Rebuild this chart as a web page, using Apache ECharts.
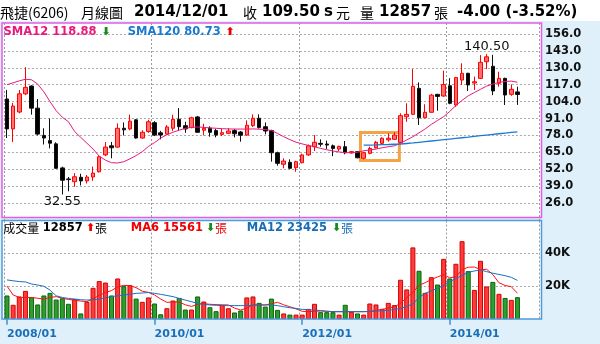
<!DOCTYPE html>
<html><head><meta charset="utf-8">
<script src="https://cdn.jsdelivr.net/npm/echarts@6/dist/echarts.min.js"></script>
<style>html,body{margin:0;padding:0;background:#dff0fb}#c{width:600px;height:344px}</style>
</head><body><div id="c"></div><script>
// ---- data ----
const months = [];
for (let y = 2008; y <= 2014; y++) for (let m = 1; m <= 12; m++) months.push(y + '/' + (m < 10 ? '0' + m : m));
const padCats = ['', '', ''];

const priceOpen  = [106,83,96,110,116,99,78,74,71.5,53, 44.5,42.4,45.8,43,46,50,63,70,69,83.5, 83,90,76,81,87.8,80,79,83.5,90.4,85.5, 84,92.2,82,83.5,81.7,78.8,79.6,81.7,80.6,78.3, 85.5,91.2,84.7,81.7,64.7,55.8,57.3,53.2,57,63, 69.3,71.9,71.4,70,67.5,69.3,64.5,65.5,60.4,64.2, 68.5,71.9,74.6,75,72.7,92.4,94.2,114.2,91.6,95.8, 109.6,108.3,116.2,101.4,120.6,125.8,118.3,121.9,134.7,131.2, 118.1,121.9,109.6,111.5];
const priceClose = [83,100.6,110,115,99,79,76,72,52.7,43.5, 44,46.2,43,46,49,61.6,69,68.5,83.5,82.3, 89,76,80.4,88.5,78.3,78.3,84.5,90.4,84.7,83, 91.6,80.4,83.5,80.4,78.3,80.1,81.4,79.3,78.1,85.8, 91.2,84,81.4,64.7,56.5,58.3,52.7,57.8,63,70, 72.7,71.2,70.6,68,69.6,64.7,65.5,60.8,64.7,68, 72.7,75.8,75.8,78.3,93.2,94.2,115.8,91.6,95.8,109, 108,117.1,102.7,122.5,125.8,116.8,119.3,134.2,138.5,112.2, 121.9,109.1,113.5,109.5];
const priceLow   = [76,73,95,109,94,78,71,68,52.5,32.55, 35,38.5,39.5,41,43,49.5,62,60.4,68.5,78, 82,75.5,75.5,80,77.5,75,78.5,81.5,81.4,80, 83.5,80,78,77,76.5,77.5,79,76.5,73.2,77.8, 84.5,83.3,78.8,57.8,54.7,52.7,52,50,56.5,62.3, 66,69.3,67.6,62,66,63.5,64,60.4,59.6,63.5, 68,71.2,73.2,74.5,72,88.5,93.7,86,91.2,95.5, 97,107.8,102,100,116.8,112.2,113,121.4,129,109, 115.5,101.4,108.5,101.5];
const priceHigh  = [113,103,113,130.5,116.5,106,83.5,91,72.7,54, 46,49,48.5,47.5,54,62.3,73,73,87.3,88, 94,90.5,82,90,89,81.5,86,94,99,88.5, 92.3,93,87,85,83,83,83.5,83,81.4,89.6, 94.2,94.2,88,82.4,65.5,60.4,59.6,58.5,64,71, 78.3,75,74,71,70,73.7,66,66,65.5,69.3, 73.7,76.5,79.6,80.4,95,102.7,129,118.8,102,110, 110,127.8,122,123,133.5,126.2,123.3,139.8,140.5,140, 127,122.4,117.3,115.5];
const sma12 = [117,118.5,120,121.2,120.8,117.5,111.5,104,97,92, 88.5,81,76.5,72,67.5,62,59,57,56.8,57.8, 60,62.5,65.5,69.5,72.5,76,78.5,80.5,82,83.5, 84.2,84.5,84.2,83.8,83.5,83.2,83,82.9,82.9,82.9, 83,82.8,82.5,81.8,79.5,77,74.8,72.8,71.5,70.3, 69.3,68,67,66,65.3,64.7,64.8,65,66.2,66.8, 67.5,68.5,69.3,70,72,74.5,77,80,83,86.5, 89.5,92.4,96.5,101,105,108.5,111,113.5,116,117.5, 118.8,119.5,119.8,118.88];
const sma120 = [null,null,null,null,null,null,null,null,null,null, null,null,null,null,null,null,null,null,null,null, null,null,null,null,null,null,null,null,null,null, null,null,null,null,null,null,null,null,null,null, null,null,null,null,null,null,null,null,null,null, null,null,null,null,null,null,null,null,70.5,70.6, 70.7,70.9,71.0,71.2,71.4,71.8,72.2,72.7,73.2,73.7, 74.2,74.7,75.2,75.7,76.2,76.7,77.3,77.8,78.3,78.8, 79.3,79.8,80.3,80.73];
const volume = [13900,8200,13300,16700,12900,8400,13900,15500,11400,12200, 8800,11800,2900,10000,18600,22700,21800,13900,24300,19600, 20200,12000,10000,12700,9000,2400,6100,10800,12400,5300, 5300,13300,10200,6700,4300,8000,6100,3500,4700,12700, 13300,9400,7100,12000,5100,2900,2200,2200,2200,5700, 8800,3700,3700,3700,2200,8200,3900,2900,2200,9000, 8400,5700,9400,8000,23500,17600,43300,29000,15500,25100, 20600,36300,24300,33300,47100,28800,17300,35100,19400,22200, 14900,12400,11200,12857];
const volMA6 = [20000,14500,13000,13000,13000,12500,12000,13000,13500,12500, 11800,11300,10800,10400,12200,14300,16000,17200,19500,20400, 20200,19000,16800,16100,14500,12000,10000,10200,10200,8500, 7500,8800,9200,8800,8600,8500,8400,6500,5300,6500, 8400,8400,8400,9200,10000,8500,7300,6000,4500,4300, 4500,4700,4500,4300,4300,4300,4300,4300,4300,4500, 5000,5700,6500,7300,9400,13000,16000,20500,22000,24000, 25500,27000,25000,25700,30000,31500,31600,30000,30200,27000, 22000,20300,19600,15561];
const volMA12 = [23700,23200,22700,22500,21200,20600,19800,17500,14000,13000, 12400,12000,11600,11400,11600,12000,12800,13500,14000,14500, 15000,15500,15700,16000,15500,14900,14200,13500,12400,11400, 10400,9400,8800,8400,8200,8000,8000,8000,8000,8000, 8200,8400,8400,8400,8000,7300,6700,6300,5700,5500, 5300,5000,4600,4300,4300,4300,4300,4300,4300,4400, 4600,4900,5100,5600,6300,7500,9000,13000,15500,17000, 18600,20200,22700,24500,26500,28400,29200,29800,28800,27800, 27100,26300,25300,23425];
const priceTicks = [26,39,52,65,78,91,104,117,130,143,156];
const volTicks = [20000, 40000];
// highlighted box (in index / price units)
const boxX = [57.48, 63.8];
const boxY = [80.2, 58.7];

// ---- build ----
const cats = months.concat(padCats);
const candles = priceOpen.map((o, i) => [o, priceClose[i], priceLow[i], priceHigh[i]]);
const up = i => priceClose[i] >= priceOpen[i];
const volBars = volume.map((v, i) => ({
  value: v,
  itemStyle: up(i) ? {color: '#ff3b3b', borderColor: '#d40000'} : {color: '#2e9e2e', borderColor: '#0b640b'}
}));
const marked = idx => idx < months.length && /\/01$/.test(months[idx]) && (parseInt(months[idx]) % 2 === 0);

const BOLD = 'bold 11.5px "DejaVu Sans"';
const ARROW = 'bold 11px "DejaVu Sans"';
const CJK = '"Noto Sans CJK TC"';
function txt(x, y, text, font, fill) {
  return {type: 'text', z: 100, style: {x, y, text, font, fill, verticalAlign: 'middle'}};
}

const chart = echarts.init(document.getElementById('c'), null, {renderer: 'canvas'});
chart.setOption({
  animation: false,
  backgroundColor: '#dff0fb',
  grid: [
    {left: 3.9, top: 23, width: 535.05, height: 196.9},
    {left: 3.9, top: 220.6, width: 535.05, height: 98.1}
  ],
  xAxis: [
    {type: 'category', gridIndex: 0, data: cats, boundaryGap: true,
     axisLine: {show: false}, axisTick: {show: false}, axisLabel: {show: false},
     splitLine: {show: true, interval: marked, lineStyle: {color: '#9a9a9a', type: [2, 2], width: 1}}},
    {type: 'category', gridIndex: 1, data: cats, boundaryGap: true,
     axisLine: {show: false},
     axisTick: {show: true, interval: marked, alignWithLabel: true, length: 6, lineStyle: {color: '#3d8fd6', width: 1.5}},
     axisLabel: {show: true, interval: marked, align: 'left', margin: 10, color: '#1b6fb8',
                 fontFamily: 'DejaVu Sans', fontWeight: 'bold', fontSize: 11,
                 formatter: v => '{a|' + v + '}',
                 rich: {a: {padding: [0, 3, 0, 0], color: '#1b6fb8', fontFamily: 'DejaVu Sans', fontWeight: 'bold', fontSize: 11}}},
     splitLine: {show: true, interval: marked, lineStyle: {color: '#9a9a9a', type: [2, 2], width: 1}}},
    {type: 'value', gridIndex: 0, min: -0.5, max: 86.5, show: false}
  ],
  yAxis: [
    {type: 'value', gridIndex: 0, position: 'right', min: 13, max: 164.5, interval: 13,
     axisLine: {show: false}, axisTick: {show: false},
     axisLabel: {show: true, margin: 6, align: 'left', color: '#111', fontFamily: 'DejaVu Sans', fontWeight: 'bold', fontSize: 11.5,
                 showMinLabel: false, showMaxLabel: false,
                 formatter: v => priceTicks.indexOf(Math.round(v)) >= 0 ? v.toFixed(1) : ''},
     splitLine: {show: true, showMinLine: false, showMaxLine: false, lineStyle: {color: '#a8a8a8', type: [2, 2], width: 1}}},
    {type: 'value', gridIndex: 1, position: 'right', min: 0, max: 60000, interval: 20000,
     axisLine: {show: false}, axisTick: {show: false},
     axisLabel: {show: true, margin: 6, align: 'left', color: '#111', fontFamily: 'DejaVu Sans', fontWeight: 'bold', fontSize: 11.5,
                 formatter: v => volTicks.indexOf(v) >= 0 ? (v / 1000) + 'K' : ''},
     splitLine: {show: true, showMinLine: false, showMaxLine: false, lineStyle: {color: '#a8a8a8', type: [2, 2], width: 1}}}
  ],
  series: [
    {type: 'candlestick', xAxisIndex: 0, yAxisIndex: 0, data: candles, barWidth: 4,
     itemStyle: {color: '#ff7070', color0: '#000000', borderColor: '#ff0000', borderColor0: '#111111', borderWidth: 1},
     markPoint: {symbol: 'circle', symbolSize: 0, silent: true,
       label: {show: true, color: '#111', fontFamily: 'DejaVu Sans', fontSize: 13, formatter: p => Number(p.value).toFixed(2)},
       data: [
         {type: 'max', valueDim: 'highest', label: {position: 'top', distance: 1}},
         {type: 'min', valueDim: 'lowest', label: {position: 'bottom', distance: 1}}
       ]}},
    {type: 'line', xAxisIndex: 0, yAxisIndex: 0, data: sma12, showSymbol: false, z: 3,
     lineStyle: {color: '#e8197d', width: 1}},
    {type: 'line', xAxisIndex: 0, yAxisIndex: 0, data: sma120, showSymbol: false, z: 3,
     lineStyle: {color: '#1a7ad0', width: 1.3}},
    {type: 'bar', xAxisIndex: 1, yAxisIndex: 1, data: volBars, barWidth: 4},
    {type: 'line', xAxisIndex: 1, yAxisIndex: 1, data: volMA6, showSymbol: false, z: 3,
     lineStyle: {color: '#ff1010', width: 1}},
    {type: 'line', xAxisIndex: 1, yAxisIndex: 1, data: volMA12, showSymbol: false, z: 3,
     lineStyle: {color: '#1a6fc2', width: 1}},
    {type: 'line', xAxisIndex: 2, yAxisIndex: 0, data: [], silent: true,
     markArea: {silent: true, itemStyle: {color: 'rgba(0,0,0,0)', borderColor: '#f5a445', borderWidth: 3},
       data: [[{coord: [boxX[0], boxY[0]]}, {coord: [boxX[1], boxY[1]]}]]}}
  ],
  graphic: [
    {type: 'rect', z: -10, shape: {x: 0, y: 0, width: 600, height: 21}, style: {fill: '#ffffff'}},
    {type: 'rect', z: -10, shape: {x: 2, y: 23, width: 539.5, height: 195}, style: {fill: '#ffffff'}},
    {type: 'rect', z: -10, shape: {x: 2, y: 220.5, width: 539.5, height: 98.5}, style: {fill: '#ffffff'}},
    {type: 'rect', z: 90, shape: {x: 2, y: 23, width: 539.5, height: 194.5}, style: {fill: 'none', stroke: '#e35ce3', lineWidth: 1.5}},
    {type: 'rect', z: 90, shape: {x: 2, y: 220.5, width: 539.5, height: 98.5}, style: {fill: 'none', stroke: '#4d9bdc', lineWidth: 1.5}},
    // header
    txt(0, 12.5, '飛捷(6206)', '14px ' + CJK, '#000'),
    txt(81, 12.5, '月線圖', '14px ' + CJK, '#000'),
    txt(134, 12.5, '2014/12/01', 'bold 15px "DejaVu Sans"', '#000'),
    txt(243, 12.5, '收', '14px ' + CJK, '#000'),
    txt(262, 12.5, '109.50', 'bold 15px "DejaVu Sans"', '#000'),
    txt(324, 12.5, 's', 'bold 15px "DejaVu Sans"', '#000'),
    txt(336, 12.5, '元', '14px ' + CJK, '#000'),
    txt(360, 12.5, '量', '14px ' + CJK, '#000'),
    txt(379, 12.5, '12857', 'bold 15px "DejaVu Sans"', '#000'),
    txt(434, 12.5, '張', '14px ' + CJK, '#000'),
    txt(457, 12.5, '-4.00 (-3.52%)', 'bold 15px "DejaVu Sans"', '#000'),
    // price legend
    txt(3.5, 32.3, 'SMA12 118.88', BOLD, '#e8197d'),
    txt(101.5, 32.3, '⬇', ARROW, '#1a8a1a'),
    txt(127.7, 32.3, 'SMA120 80.73', BOLD, '#1a7ad0'),
    txt(225.5, 32.3, '⬆', ARROW, '#f00000'),
    // volume legend
    txt(3.3, 228.3, '成交量', '12px ' + CJK, '#000'),
    txt(42.7, 228.3, '12857', BOLD, '#000'),
    txt(86, 228.3, '⬆', ARROW, '#f00000'),
    txt(95, 228.3, '張', '12px ' + CJK, '#000'),
    txt(130.7, 228.3, 'MA6 15561', BOLD, '#f00000'),
    txt(206, 228.3, '⬇', ARROW, '#1a8a1a'),
    txt(215, 228.3, '張', '12px ' + CJK, '#f00000'),
    txt(246.7, 228.3, 'MA12 23425', BOLD, '#1a6db5'),
    txt(332, 228.3, '⬇', ARROW, '#1a8a1a'),
    txt(341, 228.3, '張', '12px ' + CJK, '#1a6db5')
  ]
});
</script></body></html>
